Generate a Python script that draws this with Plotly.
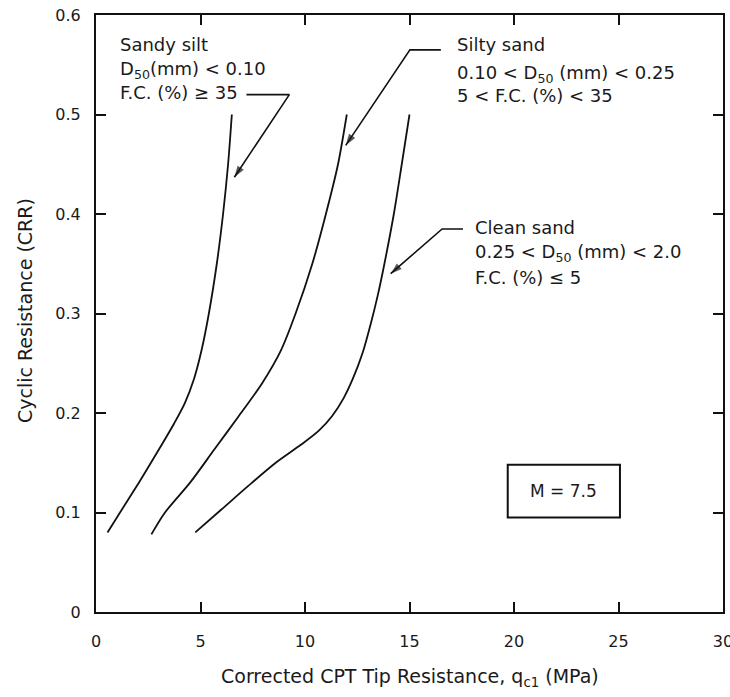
import plotly.graph_objects as go

# ---- data ----
sandy_silt_x = [0.55, 1.15, 2.05, 3.0, 3.75, 4.25, 4.7, 5.05, 5.4, 5.78, 6.08, 6.32, 6.5]
sandy_silt_y = [0.08, 0.10, 0.13, 0.163, 0.19, 0.21, 0.235, 0.263, 0.30, 0.35, 0.40, 0.45, 0.50]

silty_sand_x = [2.65, 3.3, 4.5, 5.65, 6.8, 7.95, 8.85, 9.55, 10.35, 11.0, 11.58, 12.0]
silty_sand_y = [0.078, 0.10, 0.13, 0.163, 0.196, 0.23, 0.263, 0.30, 0.35, 0.40, 0.45, 0.50]

clean_sand_x = [4.75, 6.0, 7.3, 8.6, 9.8, 10.65, 11.3, 11.85, 12.3, 12.75, 13.15, 13.5, 13.8, 14.25, 14.63, 15.0]
clean_sand_y = [0.08, 0.103, 0.127, 0.15, 0.168, 0.182, 0.197, 0.215, 0.235, 0.26, 0.29, 0.32, 0.35, 0.40, 0.45, 0.50]

label_lines = {
    "sandy": ["Sandy silt", "D<sub>50</sub>(mm) < 0.10", "F.C. (%) ≥ 35"],
    "silty": ["Silty sand", "0.10 < D<sub>50</sub> (mm) < 0.25", "5 < F.C. (%) < 35"],
    "clean": ["Clean sand", "0.25 < D<sub>50</sub> (mm) < 2.0", "F.C. (%) ≤ 5"],
}
label_x = {"sandy": 1.05, "silty": 17.2, "clean": 18.05}
label_y = {"sandy": [0.570, 0.545, 0.522],
           "silty": [0.570, 0.541, 0.519],
           "clean": [0.386, 0.361, 0.336]}

# leader lines: horizontal start, corner, arrow tip
leader_x = {"sandy": [7.2, 9.25, 6.62], "silty": [16.5, 15.02, 11.95], "clean": [17.56, 16.56, 14.1]}
leader_y = {"sandy": [0.52, 0.52, 0.437], "silty": [0.565, 0.565, 0.469], "clean": [0.385, 0.385, 0.340]}

box_x = [19.7, 25.07]
box_y = [0.095, 0.148]
box_text = "M = 7.5"

x_ticks = [0, 5, 10, 15, 20, 25, 30]
y_ticks = [0, 0.1, 0.2, 0.3, 0.4, 0.5, 0.6]
y_ticktext = ["0", "0.1", "0.2", "0.3", "0.4", "0.5", "0.6"]

x_title = "Corrected CPT Tip Resistance, q<sub>c1</sub> (MPa)"
y_title = "Cyclic Resistance (CRR)"

FONT = "DejaVu Sans, Arial, sans-serif"
TXT = "#1a1a1a"
INK = "#111111"

fig = go.Figure()
for xs, ys in [(sandy_silt_x, sandy_silt_y), (silty_sand_x, silty_sand_y),
               (clean_sand_x, clean_sand_y)]:
    fig.add_trace(go.Scatter(x=xs, y=ys, mode="lines",
                             line=dict(color=INK, width=1.8, shape="spline", smoothing=0.8),
                             showlegend=False, hoverinfo="skip"))

# leader lines with arrowheads
for k in leader_x:
    fig.add_trace(go.Scatter(x=leader_x[k], y=leader_y[k], mode="lines+markers",
                             line=dict(color=INK, width=1.6),
                             marker=dict(symbol="arrow", angleref="previous",
                                         size=[0, 0, 12], color=INK,
                                         line=dict(width=0)),
                             showlegend=False, hoverinfo="skip", cliponaxis=False))

annotations = []
for k in label_lines:
    for t, yy in zip(label_lines[k], label_y[k]):
        annotations.append(dict(x=label_x[k], y=yy, xref="x", yref="y", text=t,
                                showarrow=False, xanchor="left", yanchor="middle",
                                font=dict(family=FONT, size=18, color=TXT)))

shapes = [dict(type="rect", xref="x", yref="y", x0=box_x[0], x1=box_x[1],
               y0=box_y[0], y1=box_y[1], line=dict(color=INK, width=2))]
annotations.append(dict(x=sum(box_x) / 2, y=sum(box_y) / 2, xref="x", yref="y",
                        text=box_text, showarrow=False,
                        font=dict(family=FONT, size=17, color=TXT)))

annotations.append(dict(x=0.5, y=-0.109, xref="paper", yref="paper", text=x_title,
                        showarrow=False, xanchor="center", yanchor="middle",
                        font=dict(family=FONT, size=19, color=TXT)))
annotations.append(dict(x=-0.114, y=0.505, xref="paper", yref="paper", text=y_title,
                        showarrow=False, xanchor="center", yanchor="middle", textangle=-90,
                        font=dict(family=FONT, size=19, color=TXT)))

axis_common = dict(showline=True, linewidth=2, linecolor=INK, mirror="ticks",
                   ticks="inside", ticklen=10, tickwidth=2, tickcolor=INK,
                   showgrid=False, zeroline=False, ticklabeloverflow="allow",
                   automargin=False,
                   tickfont=dict(family=FONT, size=16, color=TXT))

fig.update_layout(
    width=730, height=697,
    margin=dict(l=96, r=7, t=15, b=85),
    paper_bgcolor="white", plot_bgcolor="white",
    xaxis=dict(range=[0, 30], tickvals=x_ticks,
               ticklabelstandoff=14, **axis_common),
    yaxis=dict(range=[0, 0.6], tickvals=y_ticks, ticktext=y_ticktext,
               ticklabelstandoff=10, **axis_common),
    annotations=annotations, shapes=shapes,
)

fig.write_html("out.html")
